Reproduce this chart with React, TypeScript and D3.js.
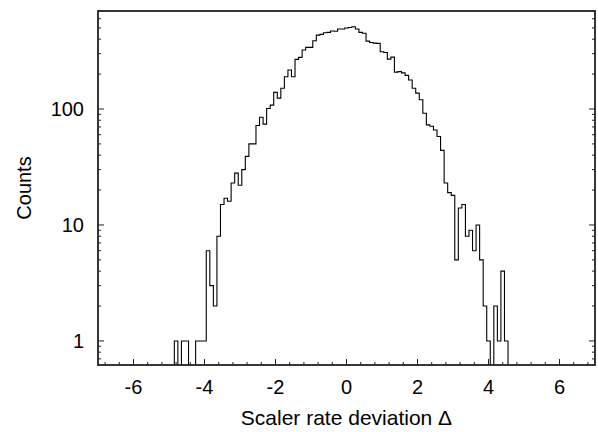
import React from "react";
import * as d3 from "d3";

// Histogram of scaler rate deviation, bins of width 0.1 starting at -4.85
const BIN_START = -4.85;
const BIN_WIDTH = 0.1;
const counts: number[] = [
  // -4.8 .. -4.0
  1, 0, 1, 1, 0, 0, 1, 1, 1,
  // -3.9 .. -3.0
  6, 3, 2, 8, 15, 17, 16, 23, 28, 22,
  // -2.9 .. -2.0
  30, 39, 50, 50, 72, 85, 74, 101, 108, 139,
  // -1.9 .. -1.0
  124, 151, 190, 217, 190, 268, 279, 323, 340, 340,
  // -0.9 .. 0.0
  388, 434, 440, 455, 458, 470, 468, 490, 490, 500,
  // 0.1 .. 1.0
  505, 512, 490, 458, 450, 385, 375, 370, 368, 312,
  // 1.1 .. 2.0
  307, 269, 280, 208, 210, 205, 195, 178, 151, 137,
  // 2.1 .. 3.0
  120, 92, 73, 71, 66, 58, 44, 23, 19, 18,
  // 3.1 .. 4.0
  5, 14, 15, 8, 9, 6, 10, 5, 2, 1,
  // 4.1 .. 4.5
  0, 2, 1, 4, 1,
];

const xDomain: [number, number] = [-7, 7];
const yDomain: [number, number] = [0.62, 700];
const xTickValues = [-6, -4, -2, 0, 2, 4, 6];
const yTickValues = [1, 10, 100];
const xLabel = "Scaler rate deviation \u0394";
const yLabel = "Counts";

const FONT = "'Liberation Sans', Arial, Helvetica, sans-serif";

export default function App() {
  const W = 598;
  const H = 432;
  const left = 98, right = 595, top = 11, bottom = 365;

  const x = d3.scaleLinear().domain(xDomain).range([left, right]);
  const y = d3.scaleLog().domain(yDomain).range([bottom, top]);

  const yOf = (v: number) => (v > 0 ? y(v) : bottom + 3);

  // step path through the bins
  const pts: [number, number][] = [];
  counts.forEach((c, i) => {
    const x0 = BIN_START + i * BIN_WIDTH;
    const x1 = x0 + BIN_WIDTH;
    pts.push([x(x0), yOf(c)]);
    pts.push([x(x1), yOf(c)]);
  });
  const first = BIN_START;
  const last = BIN_START + counts.length * BIN_WIDTH;
  const path = d3.line()([
    [x(first), bottom + 3],
    ...pts,
    [x(last), bottom + 3],
  ]) as string;

  // ticks
  const xMinor = d3.range(-17, 18).map((i) => ({ v: i * 0.4, major: i % 5 === 0 }));
  const yMinor: number[] = [];
  [0.1, 1, 10, 100].forEach((d) => {
    for (let k = 1; k <= 9; k++) {
      const v = d * k;
      if (v >= yDomain[0] && v <= yDomain[1] && !yTickValues.includes(Math.round(v * 1000) / 1000)) yMinor.push(v);
    }
  });

  const stroke = "#222";

  return (
    <svg
      width={W}
      height={H}
      style={{ position: "absolute", left: 0, top: 0, background: "#fff" }}
      fontFamily={FONT}
    >
      <rect x={0} y={0} width={W} height={H} fill="#fff" />
      <defs>
        <clipPath id="plot">
          <rect x={left} y={top} width={right - left} height={bottom - top} />
        </clipPath>
      </defs>

      {/* histogram */}
      <path d={path} fill="none" stroke="#000" strokeWidth={1.1} clipPath="url(#plot)" />

      {/* bottom ticks */}
      {xMinor.map((t, i) => (
        <line
          key={"xt" + i}
          x1={x(t.v)}
          x2={x(t.v)}
          y1={bottom}
          y2={bottom - (t.major ? 6 : 3)}
          stroke={stroke}
          strokeWidth={1}
        />
      ))}
      {/* left/right ticks */}
      {yTickValues.map((v) => (
        <g key={"ym" + v}>
          <line x1={left} x2={left + 6} y1={y(v)} y2={y(v)} stroke={stroke} strokeWidth={1} />
          <line x1={right} x2={right - 6} y1={y(v)} y2={y(v)} stroke={stroke} strokeWidth={1} />
        </g>
      ))}
      {yMinor.map((v, i) => (
        <g key={"yn" + i}>
          <line x1={left} x2={left + 3} y1={y(v)} y2={y(v)} stroke={stroke} strokeWidth={1} />
          <line x1={right} x2={right - 3} y1={y(v)} y2={y(v)} stroke={stroke} strokeWidth={1} />
        </g>
      ))}

      {/* frame */}
      <rect
        x={left}
        y={top}
        width={right - left}
        height={bottom - top}
        fill="none"
        stroke={stroke}
        strokeWidth={1.8}
      />

      {/* tick labels */}
      {xTickValues.map((v) => (
        <text key={"xl" + v} x={x(v)} y={394} textAnchor="middle" fontSize={20} fill="#000">
          {v}
        </text>
      ))}
      {yTickValues.map((v) => (
        <text
          key={"yl" + v}
          x={84}
          y={y(v)}
          dy="0.36em"
          textAnchor="end"
          fontSize={20}
          fill="#000"
        >
          {v}
        </text>
      ))}

      {/* axis titles */}
      <text x={(left + right) / 2} y={425} textAnchor="middle" fontSize={21} fill="#000">
        {xLabel}
      </text>
      <text
        transform={`translate(31, ${(top + bottom) / 2}) rotate(-90)`}
        textAnchor="middle"
        fontSize={20}
        fill="#000"
      >
        {yLabel}
      </text>
    </svg>
  );
}
